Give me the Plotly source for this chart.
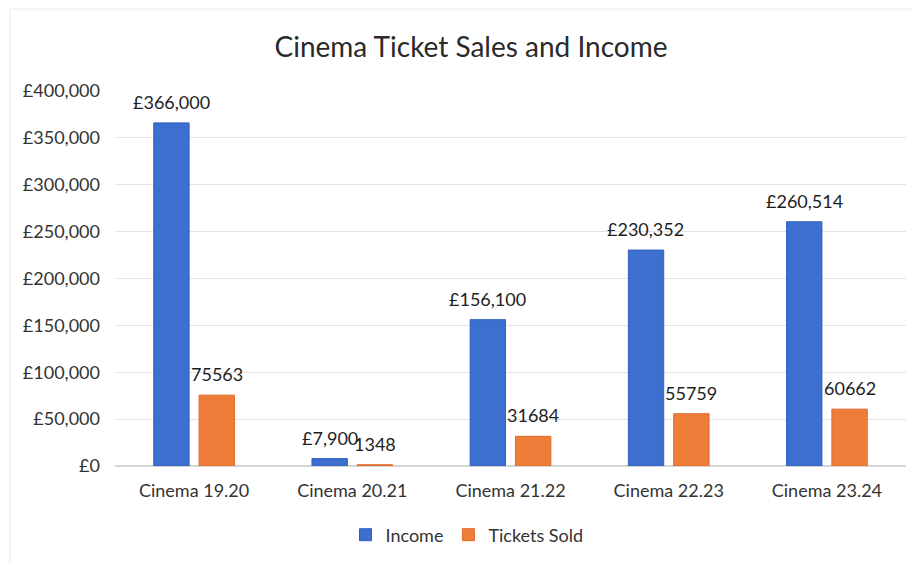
import plotly.graph_objects as go

categories = ["Cinema 19.20", "Cinema 20.21", "Cinema 21.22", "Cinema 22.23", "Cinema 23.24"]
income = [366000, 7900, 156100, 230352, 260514]
tickets_sold = [75563, 1348, 31684, 55759, 60662]
y_ticks = [0, 50000, 100000, 150000, 200000, 250000, 300000, 350000, 400000]
y_tick_labels = ["£0", "£50,000", "£100,000", "£150,000", "£200,000", "£250,000",
                 "£300,000", "£350,000", "£400,000"]

FONT = "Lato, Noto Sans, sans-serif"
BLUE = "#3d6fcf"
ORANGE = "#ef7d3a"

# page has an 8px body margin, so figure is sized/offset accordingly
W, H = 912, 555
L, R, T, B = 107, 14, 83, 97
PW, PH = W - L - R, H - T - B

fig = go.Figure()
fig.add_trace(go.Bar(
    x=categories, y=income, name="Income",
    marker=dict(color=BLUE, line=dict(color="#2f5fbf", width=1)),
))
fig.add_trace(go.Bar(
    x=categories, y=tickets_sold, name="Tickets Sold",
    marker=dict(color=ORANGE, line=dict(color="#e06a2a", width=1)),
))

# data labels above each bar
slot = 45.5
for cat, v in zip(categories, income):
    fig.add_annotation(x=cat, y=v, text=f"£{v:,}", showarrow=False,
                       xshift=-slot / 2, yshift=8, yanchor="bottom",
                       font=dict(family=FONT, size=18, color="#1e1e1e"))
for cat, v in zip(categories, tickets_sold):
    fig.add_annotation(x=cat, y=v, text=f"{v}", showarrow=False,
                       xshift=slot / 2, yshift=8, yanchor="bottom",
                       font=dict(family=FONT, size=18, color="#1e1e1e"))

fig.update_layout(
    width=W, height=H,
    paper_bgcolor="white", plot_bgcolor="white",
    font=dict(family=FONT, size=18, color="#333333"),
    title=dict(text="Cinema Ticket Sales and Income", x=463 / W, xanchor="center",
               y=1 - 39 / H, yref="container", yanchor="middle",
               font=dict(family=FONT, size=28, color="#2a2a2a")),
    margin=dict(l=L, r=R, t=T, b=B, autoexpand=False),
    barmode="group", bargap=0.427, bargroupgap=0.22,
    showlegend=True,
    legend=dict(orientation="h", x=(459 - L) / PW, xanchor="center",
                y=-(527 - (H - B)) / PH, yanchor="middle",
                font=dict(family=FONT, size=18, color="#333333"),
                itemwidth=30, traceorder="normal"),
)
fig.update_yaxes(range=[0, 400000], tickvals=y_ticks, ticktext=y_tick_labels,
                 showgrid=True, gridcolor="#e4e4e4", gridwidth=1,
                 zeroline=True, zerolinecolor="#d6d6d6", showline=False,
                 ticks="", ticklen=0, ticklabelstandoff=14,
                 tickfont=dict(family=FONT, size=18, color="#333333"))
fig.update_xaxes(showgrid=False, showline=True, linecolor="#d6d6d6",
                 ticks="", ticklabelstandoff=8,
                 tickfont=dict(family=FONT, size=18, color="#333333"))

fig.add_shape(type="rect", xref="paper", yref="paper",
              x0=(2 - L) / PW, x1=(W + 20 - L) / PW,
              y0=-(H + 20 - (H - B)) / PH, y1=1 + (T - 1) / PH,
              line=dict(color="#ececec", width=1), fillcolor="rgba(0,0,0,0)", layer="below")

fig.write_html("out.html")
